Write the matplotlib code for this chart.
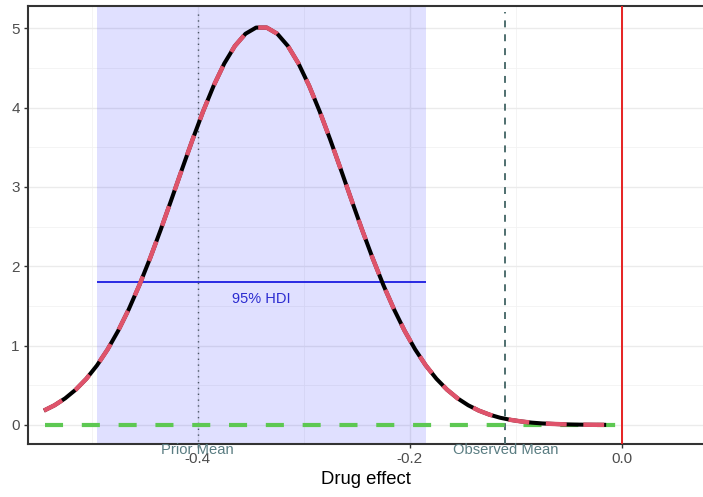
import matplotlib
matplotlib.use("Agg")
import matplotlib.pyplot as plt
from matplotlib.ticker import MultipleLocator

plt.rcParams['font.family'] = ['Liberation Sans', 'DejaVu Sans']
plt.rcParams['axes.unicode_minus'] = False
plt.rcParams['lines.scale_dashes'] = False

# posterior density
effect = [-0.545, -0.535, -0.525, -0.515, -0.505, -0.495, -0.485, -0.475, -0.465, -0.455,
          -0.445, -0.435, -0.425, -0.415, -0.405, -0.395, -0.385, -0.375, -0.365, -0.355,
          -0.345, -0.335, -0.325, -0.315, -0.305, -0.295, -0.285, -0.275, -0.265, -0.255,
          -0.245, -0.235, -0.225, -0.215, -0.205, -0.195, -0.185, -0.175, -0.165, -0.155,
          -0.145, -0.135, -0.125, -0.115, -0.105, -0.095, -0.085, -0.075, -0.065, -0.055,
          -0.045, -0.035, -0.025, -0.015]
density = [0.181, 0.248, 0.335, 0.445, 0.582, 0.750, 0.951, 1.187, 1.458, 1.763,
           2.098, 2.457, 2.833, 3.216, 3.592, 3.950, 4.275, 4.555, 4.776, 4.930,
           5.008, 5.008, 4.930, 4.776, 4.555, 4.275, 3.950, 3.592, 3.216, 2.833,
           2.457, 2.098, 1.763, 1.458, 1.187, 0.951, 0.750, 0.582, 0.445, 0.335,
           0.248, 0.181, 0.130, 0.091, 0.064, 0.044, 0.029, 0.019, 0.013, 0.008,
           0.005, 0.003, 0.002, 0.001]

# flat reference line at zero
flat_x = [-0.544, 0.0]
flat_y = [0.0, 0.0]

hdi_low, hdi_high = -0.495, -0.185
hdi_level = 1.8
prior_mean = -0.4
observed_mean = -0.11
null_value = 0.0

xticks = [-0.4, -0.2, 0.0]
xtick_labels = ['-0.4', '-0.2', '0.0']
yticks = [0, 1, 2, 3, 4, 5]

fig = plt.figure(figsize=(7.03, 4.97), dpi=100)
ax = fig.add_axes([28 / 703, 53 / 497, 1 - 28 / 703, 438 / 497])

ax.set_xlim(-0.560, 0.0763)
ax.set_ylim(-0.24, 5.28)

# theme_bw style grid
ax.set_axisbelow(True)
ax.xaxis.set_minor_locator(MultipleLocator(0.1))
ax.yaxis.set_minor_locator(MultipleLocator(0.5))
ax.grid(which='major', color='#EBEBEB', lw=1.0)
ax.grid(which='minor', color='#F2F2F2', lw=0.6)

ax.axvspan(hdi_low, hdi_high, color=(0, 0, 1), alpha=0.12, lw=0, zorder=1)
ax.hlines(hdi_level, hdi_low, hdi_high, color='#1a1ae0', lw=1.3, zorder=3)
ax.text((hdi_low + hdi_high) / 2, hdi_level - 0.21, '95% HDI', color='#2b2bd0',
        fontsize=10.5, ha='center', va='center', zorder=3)

ax.plot(flat_x, flat_y, color='#5DC852', lw=3, dashes=(13, 13.5), zorder=4)
ax.plot(effect, density, color='black', lw=2.9, solid_capstyle='butt', zorder=5)
ax.plot(effect, density, color='#DF536B', lw=3.2, dashes=(15, 12), zorder=6)

ax.plot([prior_mean, prior_mean], [-0.28, 5.21], color='#4a5563', lw=1,
        dashes=(1, 3.2), clip_on=False, zorder=3)
ax.plot([observed_mean, observed_mean], [-0.24, 5.2], color='#4f6f6f', lw=1.4,
        dashes=(5, 5), clip_on=False, zorder=3)
ax.axvline(null_value, color='#E62222', lw=1.4, zorder=7)

ax.text(prior_mean, -0.315, 'Prior Mean', color='#5A7D82', fontsize=10.6,
        ha='center', va='center', clip_on=False)
ax.text(observed_mean, -0.315, 'Observed Mean', color='#5A7D82', fontsize=10.6,
        ha='center', va='center', clip_on=False)

ax.set_xticks(xticks)
ax.set_xticklabels(xtick_labels)
ax.set_yticks(yticks)
ax.tick_params(which='major', length=3, width=1, color='#333333',
               labelcolor='#4D4D4D', labelsize=11, pad=3)
ax.tick_params(which='minor', length=0)
ax.set_xlabel('Drug effect', fontsize=13.3, labelpad=3)

for side in ['left', 'bottom', 'top']:
    ax.spines[side].set_color('#333333')
    ax.spines[side].set_linewidth(1.5)
ax.spines['right'].set_visible(False)

fig.savefig('out.png', dpi=100)
